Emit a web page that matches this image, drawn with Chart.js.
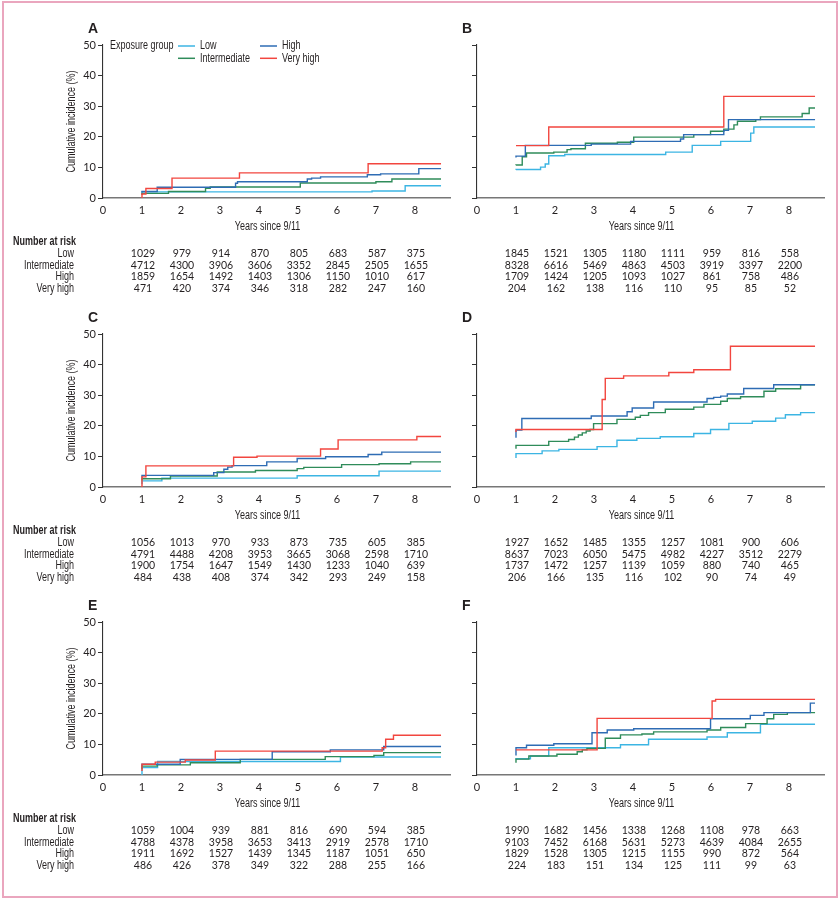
<!DOCTYPE html>
<html><head><meta charset="utf-8">
<script src="https://cdn.jsdelivr.net/npm/chart.js@4.4.1/dist/chart.umd.min.js"></script>
<style>
html,body{margin:0;padding:0;background:#fff;width:840px;height:900px;overflow:hidden;}
#frame{position:absolute;left:2px;top:1px;width:836px;height:897px;box-sizing:border-box;border:2px solid #eaa6be;}
.p{position:absolute;}
canvas{display:block;}
</style></head><body>
<div id="frame"></div>
<div class="p" id="wA"><canvas id="cA" width="460" height="310"></canvas></div>
<div class="p" id="wB"><canvas id="cB" width="460" height="310"></canvas></div>
<div class="p" id="wC"><canvas id="cC" width="460" height="310"></canvas></div>
<div class="p" id="wD"><canvas id="cD" width="460" height="310"></canvas></div>
<div class="p" id="wE"><canvas id="cE" width="460" height="310"></canvas></div>
<div class="p" id="wF"><canvas id="cF" width="460" height="310"></canvas></div>
<script>
// ---------- DATA ----------
const groups = ['Low', 'Intermediate', 'High', 'Very high'];
const xTickValues = [0, 1, 2, 3, 4, 5, 6, 7, 8];
const riskYears = [1, 2, 3, 4, 5, 6, 7, 8];

// Panel A  [years since 9/11, cumulative incidence %]
const A_low   = [[1,1.4],[6.9,2.0],[7.75,2.3],[8.0,4.0],[8.67,4.0]];
const A_int   = [[1,1.0],[1.68,1.5],[2.63,2.1],[2.75,3.2],[5.06,3.6],[7.0,4.9],[7.41,5.3],[7.7,6.2],[8.67,6.2]];
const A_high  = [[1,1.8],[1.39,2.1],[3.4,3.5],[3.45,4.8],[5.24,5.3],[5.35,6.2],[5.58,6.5],[6.78,6.9],[7.12,7.6],[8.1,7.9],[8.44,9.6],[8.67,9.6]];
const A_vhigh = [[1,0],[1.1,1.3],[1.77,3.1],[3.5,6.5],[6.8,8.2],[8.19,11.2],[8.67,11.2]];
// Panel B
const B_low   = [[1,9.2],[1.63,9.3],[1.75,10.1],[1.84,11.1],[2.25,13.8],[4.84,14.2],[5.52,15.0],[6.25,17.2],[7.02,18.5],[7.1,21.2],[7.36,23.2],[8.67,23.2]];
const B_int   = [[1,10.7],[1.16,10.8],[1.27,13.5],[1.97,14.7],[2.31,15.0],[2.41,15.8],[2.78,16.1],[3.6,17.9],[4.02,18.2],[5.56,19.9],[5.99,20.7],[6.33,21.8],[6.59,22.5],[6.68,23.9],[7.15,25.1],[7.27,25.6],[8.34,26.5],[8.52,27.6],[8.6,29.4],[8.67,29.4]];
const B_high  = [[1,13.2],[1.24,13.7],[2.93,17.2],[3.94,17.6],[5.22,18.5],[5.3,19.3],[6.33,20.7],[6.45,22.1],[6.59,25.6],[8.67,25.6]];
const B_vhigh = [[1,17.1],[1.84,17.1],[1.99,23.2],[6.33,23.2],[6.4,33.2],[8.67,33.2]];
// Panel C
const C_low   = [[1,0.9],[1.51,2.0],[4.98,2.9],[7.08,3.7],[8.05,5.2],[8.67,5.2]];
const C_int   = [[1,2.1],[1.73,2.7],[2.93,3.6],[3.91,4.9],[4.98,5.4],[5.15,6.0],[6.12,6.4],[7.08,7.3],[7.89,7.6],[8.39,8.2],[8.67,8.2]];
const C_high  = [[1,3.05],[2.84,3.8],[3.1,4.7],[3.2,5.8],[3.31,6.5],[4.2,7.0],[4.98,8.2],[5.71,9.3],[6.8,9.9],[7.15,10.6],[7.89,11.4],[8.67,11.4]];
const C_vhigh = [[1,0],[1.1,3.3],[3.35,6.9],[3.95,9.7],[5.58,10.1],[6.03,12.4],[8.05,15.4],[8.47,16.5],[8.67,16.5]];
// Panel D
const D_low   = [[1,9.5],[1.67,10.9],[2.1,11.8],[3.08,12.3],[3.59,13.2],[4.1,15.3],[4.7,15.9],[5.56,16.4],[5.99,17.5],[6.46,18.8],[7.06,20.8],[7.66,21.5],[7.91,22.5],[8.3,23.6],[8.64,24.3],[8.67,24.3]];
const D_int   = [[1,12.5],[1.84,13.6],[2.35,14.9],[2.5,15.5],[2.6,16.3],[2.7,17.0],[2.8,17.7],[2.9,18.3],[2.99,18.8],[3.59,20.7],[4.06,22.1],[4.19,22.8],[4.4,23.4],[4.83,24.3],[5.56,25.4],[5.82,26.1],[6.25,27.0],[6.42,28.0],[6.76,28.9],[7.36,29.5],[7.66,31.3],[8.3,32.1],[8.6,33.4],[8.67,33.4]];
const D_high  = [[1,16.1],[1.15,18.6],[2.93,22.4],[3.85,23.2],[3.98,24.6],[4.53,25.8],[5.9,27.8],[6.07,28.9],[6.25,29.3],[6.42,29.7],[6.84,30.4],[7.61,32.2],[8.0,33.4],[8.67,33.4]];
const D_vhigh = [[1,18.0],[1.8,18.8],[3.21,18.8],[3.29,28.6],[3.76,35.5],[4.92,36.3],[5.56,37.4],[6.5,38.3],[7.36,46.0],[8.67,46.0]];
// Panel E
const E_low   = [[1,0],[1.4,2.4],[6.09,4.4],[7.93,5.9],[8.67,5.9]];
const E_int   = [[1,2.0],[1.39,2.9],[2.24,3.3],[3.52,4.0],[5.7,5.1],[6.95,6.0],[7.2,6.4],[8.5,7.3],[8.67,7.3]];
const E_high  = [[1,2.9],[1.98,3.5],[4.34,5.1],[5.83,7.6],[7.2,8.2],[7.98,9.3],[8.67,9.3]];
const E_vhigh = [[1,1.3],[1.34,3.5],[2.11,4.2],[2.88,4.9],[3.48,7.8],[7.16,7.8],[7.25,8.9],[7.45,11.7],[8.58,13.0],[8.67,13.0]];
// Panel F
const F_low   = [[1,5.1],[1.37,5.3],[1.84,6.2],[3.68,8.9],[4.4,9.9],[5.9,11.7],[6.42,12.4],[7.27,13.8],[7.87,16.6],[8.67,16.6]];
const F_int   = [[1,4.0],[1.33,5.2],[2.05,6.2],[2.57,6.8],[2.7,7.6],[2.82,8.2],[3.29,8.7],[3.68,12.0],[4.23,13.1],[4.53,13.4],[5.9,14.1],[6.25,14.7],[6.89,15.5],[7.44,16.8],[7.61,18.4],[7.96,19.8],[8.55,20.4],[8.67,20.4]];
const F_high  = [[1,6.4],[1.27,8.9],[1.97,9.7],[2.95,10.2],[3.34,13.8],[4.02,14.7],[5.99,15.1],[7.01,18.4],[7.36,19.5],[8.55,20.4],[8.65,23.5],[8.67,23.5]];
const F_vhigh = [[1,8.2],[3.08,8.2],[3.17,18.5],[6.03,18.5],[6.12,24.2],[8.13,24.7],[8.67,24.7]];

// Number at risk (rows: Low, Intermediate, High, Very high)
const riskA = [[1029,979,914,870,805,683,587,375],[4712,4300,3906,3606,3352,2845,2505,1655],[1859,1654,1492,1403,1306,1150,1010,617],[471,420,374,346,318,282,247,160]];
const riskB = [[1845,1521,1305,1180,1111,959,816,558],[8328,6616,5469,4863,4503,3919,3397,2200],[1709,1424,1205,1093,1027,861,758,486],[204,162,138,116,110,95,85,52]];
const riskC = [[1056,1013,970,933,873,735,605,385],[4791,4488,4208,3953,3665,3068,2598,1710],[1900,1754,1647,1549,1430,1233,1040,639],[484,438,408,374,342,293,249,158]];
const riskD = [[1927,1652,1485,1355,1257,1081,900,606],[8637,7023,6050,5475,4982,4227,3512,2279],[1737,1472,1257,1139,1059,880,740,465],[206,166,135,116,102,90,74,49]];
const riskE = [[1059,1004,939,881,816,690,594,385],[4788,4378,3958,3653,3413,2919,2578,1710],[1911,1692,1527,1439,1345,1187,1051,650],[486,426,378,349,322,288,255,166]];
const riskF = [[1990,1682,1456,1338,1268,1108,978,663],[9103,7452,6168,5631,5273,4639,4084,2655],[1829,1528,1305,1215,1155,990,872,564],[224,183,151,134,125,111,99,63]];

// ---------- STYLE / LAYOUT ----------
const colors = ['#3cb5e3', '#2f8c5a', '#2e6cb4', '#f2463f'];
const TXT = "'Liberation Sans',Arial,sans-serif";
const NUM = "Lato,'Liberation Sans',sans-serif";
const INK = '#231f20';
const SQUEEZE = 0.75;

const panels = [
  {id:'A', el:'A', left:0,   top:0,   curves:[A_low,A_int,A_high,A_vhigh], risk:riskA, isLeft:true, legend:true},
  {id:'B', el:'B', left:374, top:0,   curves:[B_low,B_int,B_high,B_vhigh], risk:riskB, isLeft:false},
  {id:'C', el:'C', left:0,   top:289, curves:[C_low,C_int,C_high,C_vhigh], risk:riskC, isLeft:true},
  {id:'D', el:'D', left:374, top:289, curves:[D_low,D_int,D_high,D_vhigh], risk:riskD, isLeft:false},
  {id:'E', el:'E', left:0,   top:577, curves:[E_low,E_int,E_high,E_vhigh], risk:riskE, isLeft:true},
  {id:'F', el:'F', left:374, top:577, curves:[F_low,F_int,F_high,F_vhigh], risk:riskF, isLeft:false}
];

// condensed text helper (horizontal squeeze)
function sText(ctx, txt, x, y, align, font, rot) {
  ctx.save();
  ctx.font = font;
  ctx.textAlign = align;
  ctx.textBaseline = 'middle';
  ctx.translate(x, y);
  if (rot) ctx.rotate(rot);
  ctx.scale(SQUEEZE, 1);
  ctx.fillText(txt, 0, 0);
  ctx.restore();
}

const decor = {
  id: 'decor',
  afterDraw(chart, args, opts) {
    const p = opts.panel;
    const {ctx, chartArea, scales} = chart;
    const x = scales.x;
    const F = `12px ${TXT}`;
    ctx.save();
    ctx.fillStyle = INK;
    // panel letter
    ctx.font = `bold 14px ${TXT}`;
    ctx.textAlign = 'left'; ctx.textBaseline = 'middle';
    ctx.fillText(p.id, chartArea.left - 15, 29);
    // y title
    if (p.isLeft) {
      sText(ctx, 'Cumulative incidence (%)', 72, (chartArea.top + chartArea.bottom) / 2, 'center', F, -Math.PI / 2);
    }
    // x title
    sText(ctx, 'Years since 9/11', (chartArea.left + chartArea.right) / 2 - 9, 226.5, 'center', F);
    // legend
    if (p.legend) {
      sText(ctx, 'Exposure group', 110, 46, 'left', F);
      const slots = [[178, 46], [178, 58.3], [260, 46], [260, 58.3]];
      chart.data.datasets.forEach((ds, i) => {
        const [lx, ly] = slots[i];
        ctx.strokeStyle = ds.borderColor; ctx.lineWidth = 1.5;
        ctx.beginPath(); ctx.moveTo(lx, ly); ctx.lineTo(lx + 17, ly); ctx.stroke();
        sText(ctx, ds.label, lx + 22, ly, 'left', F);
      });
    }
    // number at risk
    if (p.isLeft) {
      sText(ctx, 'Number at risk', 13, 241.5, 'left', `bold 12px ${TXT}`);
      groups.forEach((g, r) => sText(ctx, g, 74, 253.5 + r * 11.8, 'right', F));
    }
    ctx.font = `10.5px ${NUM}`;
    ctx.textAlign = 'center';
    ctx.textBaseline = 'middle';
    p.risk.forEach((row, r) => {
      row.forEach((v, i) => {
        ctx.fillText(String(v), x.getPixelForValue(riskYears[i]) + 1, 253.5 + r * 11.8);
      });
    });
    ctx.restore();
  }
};

panels.forEach(p => {
  const wrap = document.getElementById('w' + p.el);
  wrap.style.left = p.left + 'px';
  wrap.style.top = p.top + 'px';
  const datasets = p.curves.map((c, i) => ({
    label: groups[i],
    data: c.map(([t, v]) => ({x: t, y: v})),
    borderColor: colors[i],
    backgroundColor: colors[i],
    borderWidth: 1.4,
    pointRadius: 0,
    stepped: 'after',
    fill: false,
    order: 3 - i
  }));
  new Chart(document.getElementById('c' + p.el), {
    type: 'line',
    data: {datasets},
    options: {
      responsive: false,
      animation: false,
      devicePixelRatio: 1,
      layout: {padding: {top: 45, left: 0, right: 10, bottom: 0}},
      plugins: {legend: {display: false}, tooltip: {enabled: false}, decor: {panel: p}},
      scales: {
        x: {
          type: 'linear', min: 0, max: 8.9,
          afterBuildTicks: s => { s.ticks = xTickValues.map(v => ({value: v})); },
          afterFit: s => { s.height = 112; },
          ticks: {color: INK, font: {family: NUM, size: 11}, padding: 6, maxRotation: 0, autoSkip: false},
          grid: {drawOnChartArea: false, drawTicks: false},
          border: {display: true, color: '#777', width: 1.6}
        },
        y: {
          min: 0, max: 50,
          afterFit: s => { s.width = 103; },
          ticks: {stepSize: 10, color: INK, font: {family: NUM, size: 11}, padding: 2,
                  callback: v => p.isLeft ? v : ''},
          grid: {drawOnChartArea: false, drawTicks: true, tickLength: 5, color: '#333', tickWidth: 1},
          border: {display: true, color: '#333', width: 1.1}
        }
      }
    },
    plugins: [decor]
  });
});
</script>
</body></html>
